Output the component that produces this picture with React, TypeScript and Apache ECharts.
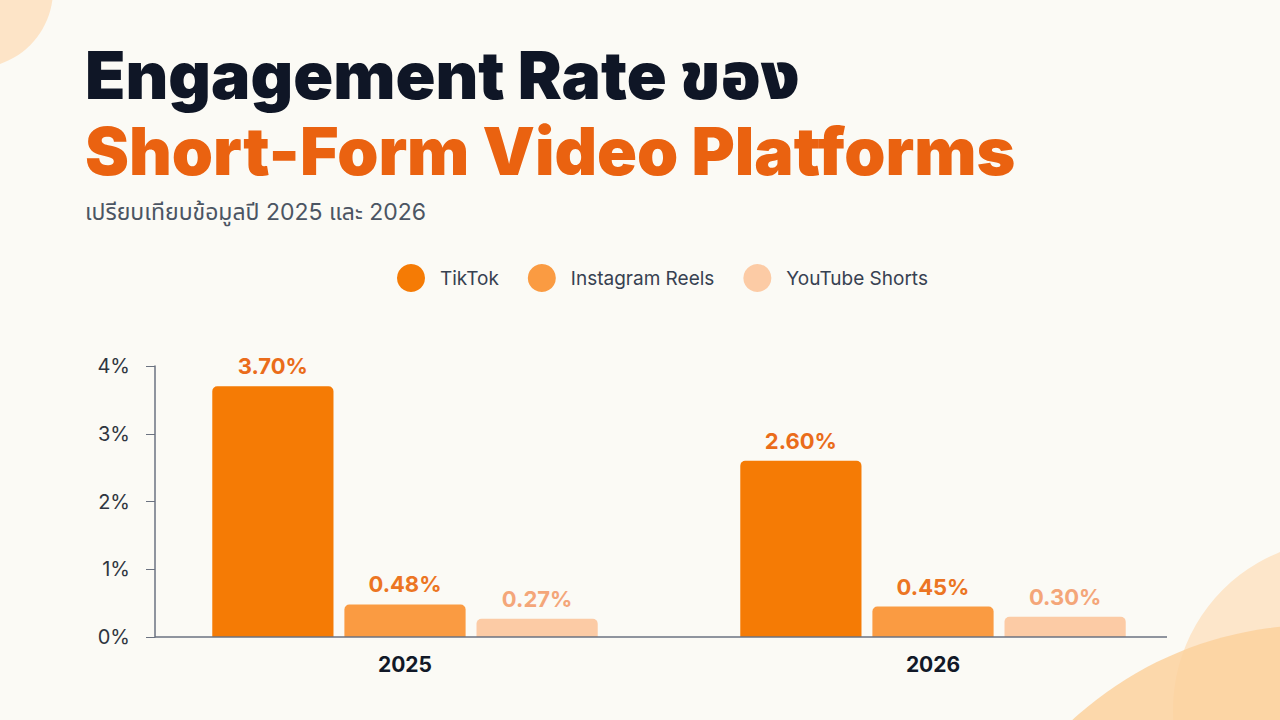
import React, { useEffect, useRef } from "react";
import * as echarts from "echarts";

// ข้อมูล engagement rate (%)
const years = ["2025", "2026"];
const platforms = ["TikTok", "Instagram Reels", "YouTube Shorts"];
const tiktok = [3.7, 2.6];
const reels = [0.48, 0.45];
const shorts = [0.27, 0.3];
const yTicks = [0, 1, 2, 3, 4];

const barColors = ["#F57B05", "#FA9B42", "#FCCBA5"];
const labelColors = ["#EA6C1A", "#EC7522", "#F4A679"];

const FONT = "Inter, 'Noto Sans', 'Noto Sans Thai', sans-serif";

const App: React.FC = () => {
  const chartRef = useRef<HTMLDivElement | null>(null);

  useEffect(() => {
    document.body.style.margin = "0";
    if (!chartRef.current) return;
    const chart = echarts.init(chartRef.current, undefined, { renderer: "svg" });

    const values = [tiktok, reels, shorts];

    const option = {
      animation: false,
      backgroundColor: "#FBFAF5",
      textStyle: { fontFamily: FONT },
      graphic: [
        {
          type: "circle",
          shape: { cx: -25, cy: -10, r: 78 },
          style: { fill: "#FDE4C7" },
          z: 0,
        },
        {
          type: "circle",
          shape: { cx: 1343, cy: 710, r: 170 },
          style: { fill: "#FDE6CA" },
          z: 0,
        },
        {
          type: "circle",
          shape: { cx: 1316, cy: 985, r: 360 },
          style: { fill: "#FBD19E", opacity: 0.85 },
          z: 0,
        },
        {
          type: "text",
          left: 85,
          top: 42,
          style: {
            text: "Engagement Rate ของ",
            fill: "#0F1626",
            font: `900 66px ${FONT}`,
          },
        },
        {
          type: "text",
          left: 85,
          top: 118,
          style: {
            text: "Short-Form Video Platforms",
            fill: "#EA6210",
            font: `900 66px ${FONT}`,
          },
        },
        {
          type: "text",
          left: 85,
          top: 200,
          style: {
            text: "เปรียบเทียบข้อมูลปี 2025 และ 2026",
            fill: "#4B5563",
            font: `400 23px ${FONT}`,
          },
        },
        // เส้นแกน X ช่วงที่มองเห็น
        {
          type: "line",
          shape: { x1: 155, y1: 637, x2: 1167, y2: 637 },
          style: { stroke: "#6B7280", lineWidth: 1.5 },
          z: 10,
        },
      ],
      legend: {
        data: platforms,
        top: 259,
        left: 392,
        icon: "circle",
        itemWidth: 28,
        itemHeight: 28,
        itemGap: 29,
        textStyle: {
          fontSize: 19,
          color: "#374151",
          padding: [0, 0, 0, 10],
          fontFamily: FONT,
        },
      },
      grid: { left: 141, right: 83, top: 366, bottom: 83 },
      xAxis: {
        type: "category",
        data: years,
        axisTick: { show: false },
        axisLine: { show: false },
        axisLabel: {
          color: "#111827",
          fontSize: 21,
          fontWeight: "bold",
          margin: 17,
        },
      },
      yAxis: {
        type: "value",
        min: yTicks[0],
        max: yTicks[yTicks.length - 1],
        interval: 1,
        offset: -14,
        axisLine: { show: true, lineStyle: { color: "#6B7280", width: 1.5 } },
        axisTick: { show: true, length: 9, lineStyle: { color: "#6B7280" } },
        splitLine: { show: false },
        axisLabel: {
          formatter: "{value}%",
          color: "#2F3540",
          fontSize: 20,
          margin: 25,
        },
      },
      series: platforms.map((name, i) => ({
        name,
        type: "bar",
        data: values[i],
        barCategoryGap: "27%",
        barGap: "9%",
        itemStyle: { color: barColors[i], borderRadius: [5, 5, 0, 0] },
        label: {
          show: true,
          position: "top",
          distance: 9,
          formatter: (p: any) => `${p.value.toFixed(2)}%`,
          color: labelColors[i],
          fontSize: 22,
          fontWeight: "bold",
        },
      })),
    };

    chart.setOption(option as any);
    return () => {
      chart.dispose();
    };
  }, []);

  return <div ref={chartRef} style={{ width: "1280px", height: "720px" }} />;
};

export default App;
